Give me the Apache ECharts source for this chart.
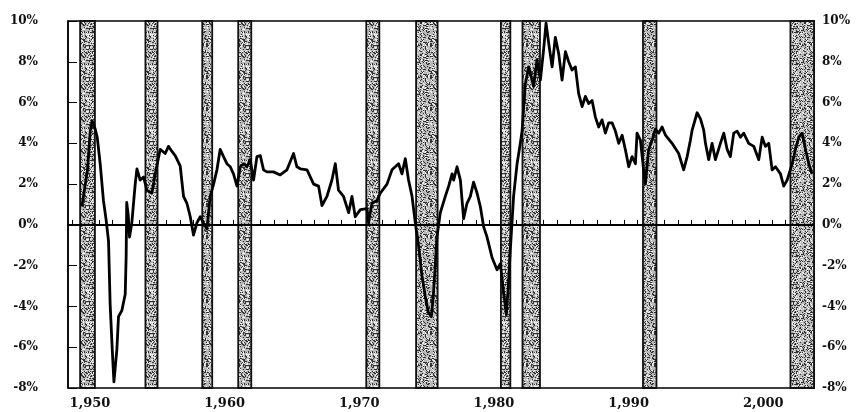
<!DOCTYPE html>
<html>
<head>
<meta charset="utf-8">
<script src="https://cdn.jsdelivr.net/npm/echarts@6/dist/echarts.min.js"></script>
<style>
  html, body { margin: 0; padding: 0; background: #fff; }
  #main { width: 865px; height: 412px; }
</style>
</head>
<body>
<div id="main"></div>
<script>
// time (decimal years) and value (%)
const years = [
  1948.73, 1949.15, 1949.35, 1949.5, 1949.72, 1949.87, 1950.09, 1950.33, 1950.53, 1950.71,
  1950.83, 1951.0, 1951.11, 1951.33, 1951.45, 1951.7, 1951.95, 1952.02, 1952.06, 1952.17,
  1952.27, 1952.44, 1952.69, 1952.82, 1953.06, 1953.31, 1953.56, 1953.93, 1954.18, 1954.42,
  1954.55, 1954.92, 1955.16, 1955.42, 1955.66, 1956.03, 1956.28, 1956.53, 1956.78, 1957.02,
  1957.27, 1957.52, 1957.76, 1958.02, 1958.26, 1958.51, 1958.76, 1959.0, 1959.25, 1959.5,
  1959.75, 1959.99, 1960.25, 1960.49, 1960.74, 1960.99, 1961.23, 1961.48, 1961.73, 1961.98,
  1962.22, 1962.47, 1962.96, 1963.46, 1963.96, 1964.45, 1964.7, 1964.95, 1965.45, 1965.94,
  1966.31, 1966.56, 1966.93, 1967.3, 1967.55, 1967.79, 1968.16, 1968.54, 1968.79, 1969.03,
  1969.41, 1969.9, 1970.02, 1970.27, 1970.65, 1970.89, 1971.39, 1971.76, 1972.25, 1972.5,
  1972.75, 1972.99, 1973.25, 1973.49, 1973.74, 1973.99, 1974.23, 1974.46, 1974.68, 1974.83,
  1974.98, 1975.1, 1975.35, 1975.72, 1975.97, 1976.22, 1976.34, 1976.59, 1976.84, 1977.08,
  1977.33, 1977.58, 1977.82, 1978.08, 1978.32, 1978.57, 1978.82, 1979.19, 1979.56, 1979.81,
  1980.03, 1980.25, 1980.4, 1980.55, 1980.79, 1981.05, 1981.29, 1981.42, 1981.66, 1981.91,
  1982.28, 1982.53, 1982.78, 1983.02, 1983.2, 1983.4, 1983.65, 1983.89, 1984.14, 1984.39,
  1984.64, 1984.88, 1985.13, 1985.38, 1985.62, 1985.88, 1986.12, 1986.37, 1986.62, 1986.86,
  1987.11, 1987.36, 1987.61, 1987.85, 1988.11, 1988.35, 1988.6, 1988.85, 1989.09, 1989.34,
  1989.59, 1989.84, 1989.96, 1990.21, 1990.45, 1990.58, 1990.82, 1991.08, 1991.32, 1991.57,
  1991.82, 1992.07, 1992.56, 1993.05, 1993.42, 1993.68, 1993.92, 1994.05, 1994.42, 1994.67,
  1994.91, 1995.04, 1995.28, 1995.53, 1995.78, 1996.15, 1996.4, 1996.65, 1996.89, 1997.14,
  1997.39, 1997.64, 1997.88, 1998.25, 1998.63, 1999.0, 1999.25, 1999.49, 1999.74, 1999.99,
  2000.24, 2000.61, 2000.85, 2001.11, 2001.48, 2001.72, 2001.97, 2002.22, 2002.47, 2002.71,
  2002.96
];
const values = [
  0.9, 2.7, 4.6, 5.1, 4.7, 4.3, 3.0, 1.2, 0.25, -0.8,
  -3.9, -6.3, -7.7, -6.1, -4.5, -4.2, -3.4, -1.5, 1.1, 0.5,
  -0.6, 0.1, 2.0, 2.75, 2.2, 2.35, 1.7, 1.55, 2.5, 3.3,
  3.7, 3.5, 3.85, 3.6, 3.4, 2.9, 1.4, 1.06, 0.4, -0.5,
  0.1, 0.4, 0.1, -0.2, 1.4, 2.0, 2.7, 3.7, 3.35, 3.0,
  2.85, 2.5, 1.9, 2.85, 3.0, 2.85, 3.2, 2.2, 3.35, 3.4,
  2.7, 2.6, 2.6, 2.45, 2.7, 3.5, 2.85, 2.75, 2.7, 2.0,
  1.9, 0.95, 1.4, 2.2, 3.0, 1.7, 1.4, 0.6, 1.4, 0.4,
  0.75, 0.8, 0.1, 1.06, 1.2, 1.55, 2.0, 2.7, 3.0, 2.5,
  3.25, 2.2, 1.4, 0.1, -1.05, -2.5, -3.5, -4.3, -4.5, -3.5,
  -1.9, -0.6, 0.6, 1.4, 1.9, 2.5, 2.2, 2.85, 2.2, 0.3,
  1.06, 1.4, 2.1, 1.55, 0.9, -0.1, -0.6, -1.6, -2.2, -1.9,
  -3.2, -4.4, -3.0, -1.2, 1.4, 3.0, 4.0, 4.6, 6.9, 7.75,
  6.8, 8.1, 7.1, 8.6, 9.9, 8.9, 7.75, 9.2, 8.4, 7.1,
  8.5, 8.0, 7.6, 7.75, 6.45, 5.8, 6.3, 5.95, 6.1, 5.3,
  4.8, 5.15, 4.5, 5.0, 5.0, 4.6, 4.0, 4.4, 3.7, 2.85,
  3.35, 3.0, 4.5, 4.15, 2.7, 2.0, 3.7, 4.15, 4.7, 4.5,
  4.8, 4.4, 4.0, 3.5, 2.7, 3.35, 4.15, 4.65, 5.5, 5.2,
  4.65, 4.0, 3.2, 4.0, 3.2, 4.0, 4.5, 3.7, 3.35, 4.5,
  4.6, 4.3, 4.5, 4.0, 3.85, 3.2, 4.3, 3.85, 4.0, 2.7,
  2.85, 2.5, 1.9, 2.2, 3.0, 3.7, 4.3, 4.5, 3.7, 3.0,
  2.5
];
// shaded periods
const recessionStart = [1948.6, 1953.45, 1957.67, 1960.34, 1969.85, 1973.55, 1979.85, 1981.45, 1990.4, 2001.35];
const recessionEnd = [1949.7, 1954.35, 1958.41, 1961.31, 1970.82, 1975.15, 1980.55, 1982.75, 1991.4, 2003.1];
// axis labels
const xLabelYears = [1950, 1960, 1970, 1980, 1990, 2000];
const yTicks = [-8, -6, -4, -2, 0, 2, 4, 6, 8, 10];

const tickYears = [];
for (let y = 1948; y <= 2003; y++) tickYears.push(y);

// fixed stipple tile for the shaded bars (integer hash, same every run)
const T = 32;
const pat = document.createElement('canvas');
pat.width = T; pat.height = T;
const pc = pat.getContext('2d');
pc.fillStyle = '#b8b8b8';
pc.fillRect(0, 0, T, T);
for (let i = 0; i < T; i++) {
  for (let j = 0; j < T; j++) {
    let h = (i * 374761393 + j * 668265263) | 0;
    h = Math.imul(h ^ (h >>> 13), 1274126177);
    h = ((h ^ (h >>> 16)) >>> 0) % 100;
    if (h < 26) { pc.fillStyle = '#333'; pc.fillRect(i, j, 1, 1); }
    else if (h > 78) { pc.fillStyle = '#f0f0f0'; pc.fillRect(i, j, 1, 1); }
  }
}

const lineData = years.map((y, i) => [y, values[i]]);
const areas = recessionStart.map((s, i) => [{ xAxis: s }, { xAxis: recessionEnd[i] }]);

const font = 'DejaVu Serif';
const yLabel = {
  fontFamily: font, fontWeight: 'bold', fontSize: 12, color: '#111',
  formatter: v => v + '%', customValues: yTicks, padding: [0, 0, 10, 0]
};

const chart = echarts.init(document.getElementById('main'), null, { renderer: 'canvas' });
chart.setOption({
  animation: false,
  grid: { left: 68, right: 51, top: 21, bottom: 24, show: true, borderColor: '#000', borderWidth: 1.5 },
  xAxis: {
    type: 'value', min: 1947.7, max: 2003.1,
    splitLine: { show: false },
    axisLine: { show: true, lineStyle: { color: '#000', width: 1.5 } },
    axisTick: { show: true, inside: true, length: 5, customValues: tickYears, lineStyle: { color: '#000', width: 1 } },
    axisLabel: {
      customValues: xLabelYears, fontFamily: font, fontWeight: 'bold', fontSize: 13, color: '#111',
      margin: 9, padding: [0, 18, 0, 0]
    }
  },
  yAxis: [
    {
      type: 'value', min: -8, max: 10, position: 'left',
      splitLine: { show: false },
      axisLine: { show: true, lineStyle: { color: '#000', width: 1.5 } },
      axisTick: { show: true, inside: true, length: 9, customValues: yTicks, lineStyle: { color: '#000' } },
      axisLabel: Object.assign({ margin: 30 }, yLabel)
    },
    {
      type: 'value', min: -8, max: 10, position: 'right',
      splitLine: { show: false },
      axisLine: { show: true, lineStyle: { color: '#000', width: 1.5 } },
      axisTick: { show: true, inside: true, length: 6, customValues: yTicks, lineStyle: { color: '#000' } },
      axisLabel: Object.assign({ margin: 8 }, yLabel)
    }
  ],
  series: [
    {
      type: 'line', data: lineData, showSymbol: false, z: 3,
      lineStyle: { color: '#000', width: 2.8, join: 'round' },
      markArea: {
        silent: true,
        itemStyle: { color: { image: pat, repeat: 'repeat' }, borderColor: '#111', borderWidth: 1.8 },
        data: areas
      },
      markLine: {
        silent: true, symbol: 'none', label: { show: false },
        lineStyle: { color: '#000', width: 2, type: 'solid' },
        data: [{ yAxis: 0 }]
      }
    }
  ]
});
</script>
</body>
</html>
